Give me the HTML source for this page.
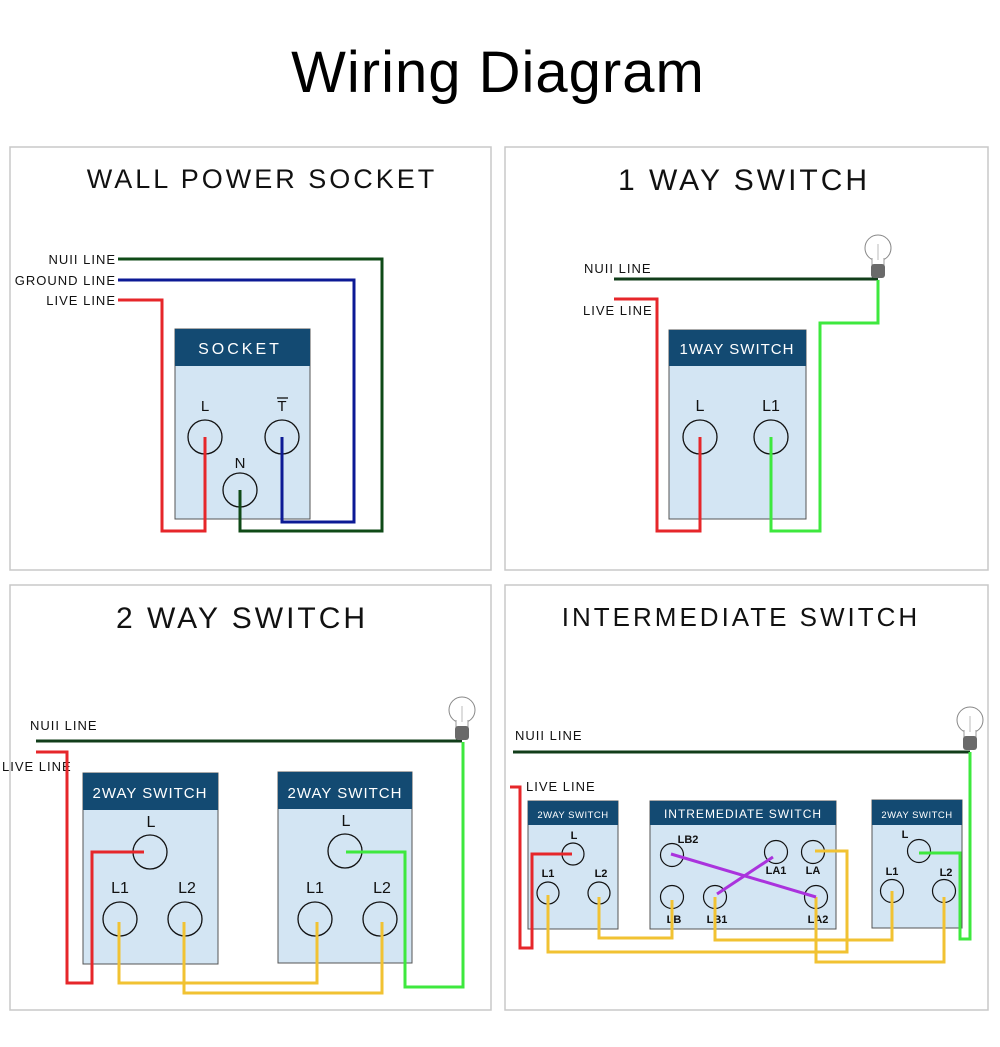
<!DOCTYPE html>
<html><head><meta charset="utf-8"><style>
html,body{margin:0;padding:0;background:#fff;}
svg{display:block;}
text{font-family:"Liberation Sans","DejaVu Sans",sans-serif;}
</style></head><body>
<svg width="1000" height="1047" viewBox="0 0 1000 1047" xmlns="http://www.w3.org/2000/svg">
<defs>
<g id="bulb">
<circle cx="0" cy="-8" r="13" fill="#fff" stroke="#888" stroke-width="1"/>
<path d="M-6,2 L-6,10 L6,10 L6,2" fill="#fff" stroke="#999" stroke-width="1"/>
<rect x="-7" y="8" width="14" height="14" rx="3" fill="#6a6a6a"/>
<line x1="0" y1="-12" x2="0" y2="4" stroke="#aaa" stroke-width="0.8"/>
</g>
</defs>
<text x="498" y="92" font-size="58" text-anchor="middle" fill="#000" letter-spacing="1">Wiring  Diagram</text>
<g fill="none" stroke="#c8c8c8" stroke-width="1.5">
<rect x="10" y="147" width="481" height="423"/>
<rect x="505" y="147" width="483" height="423"/>
<rect x="10" y="585" width="481" height="425"/>
<rect x="505" y="585" width="483" height="425"/>
</g>
<g fill="#111" text-anchor="middle" letter-spacing="3">
<text x="262" y="188" font-size="27">WALL POWER SOCKET</text>
<text x="744" y="190" font-size="30">1 WAY SWITCH</text>
<text x="242" y="628" font-size="30">2 WAY SWITCH</text>
<text x="741" y="626" font-size="26">INTERMEDIATE SWITCH</text>
</g>
<!-- Socket -->
<rect x="175" y="329" width="135" height="190" fill="#d3e5f3" stroke="#555"/>
<rect x="175" y="329" width="135" height="37" fill="#134a72"/>
<text x="240" y="354" font-size="16" fill="#fff" text-anchor="middle" letter-spacing="3">SOCKET</text>
<g font-size="15" fill="#111" text-anchor="middle">
<text x="205" y="411">L</text><text x="282" y="411">T</text><text x="240" y="468">N</text>
<text x="116" y="264" text-anchor="end" font-size="13" letter-spacing="1">NUII LINE</text>
<text x="116" y="285" text-anchor="end" font-size="13" letter-spacing="1">GROUND LINE</text>
<text x="116" y="305" text-anchor="end" font-size="13" letter-spacing="1">LIVE LINE</text>
</g>
<line x1="277" y1="398" x2="288" y2="398" stroke="#111" stroke-width="1.3"/>
<g fill="none" stroke="#111" stroke-width="1.3">
<circle cx="205" cy="437" r="17"/><circle cx="282" cy="437" r="17"/><circle cx="240" cy="490" r="17"/>
</g>
<g fill="none" stroke-width="3">
<polyline points="118,259 382,259 382,531 240,531 240,490" stroke="#0f4a17"/>
<polyline points="118,280 354,280 354,522 282,522 282,437" stroke="#0c1a95"/>
<polyline points="118,300 162,300 162,531 205,531 205,437" stroke="#e6262a"/>
</g>
<!-- 1 way -->
<rect x="669" y="330" width="137" height="189" fill="#d3e5f3" stroke="#555"/>
<rect x="669" y="330" width="137" height="36" fill="#134a72"/>
<text x="737" y="354" font-size="15" fill="#fff" text-anchor="middle" letter-spacing="1">1WAY SWITCH</text>
<g font-size="16" fill="#111" text-anchor="middle">
<text x="700" y="411">L</text><text x="771" y="411">L1</text></g>
<text x="584" y="273" font-size="13" fill="#111" letter-spacing="1">NUII LINE</text>
<text x="583" y="315" font-size="13" fill="#111" letter-spacing="1">LIVE LINE</text>
<g fill="none" stroke="#111" stroke-width="1.3"><circle cx="700" cy="437" r="17"/><circle cx="771" cy="437" r="17"/></g>
<g fill="none" stroke-width="3">
<line x1="614" y1="279" x2="878" y2="279" stroke="#113d1a"/>
<polyline points="614,299 657,299 657,531 700,531 700,437" stroke="#e6262a"/>
<polyline points="771,437 771,531 820,531 820,323 878,323 878,280" stroke="#3ee83e"/>
</g>
<use href="#bulb" x="878" y="256"/>
<!-- 2 way -->
<text x="30" y="730" font-size="13" fill="#111" letter-spacing="1">NUII LINE</text>
<text x="2" y="771" font-size="13" fill="#111" letter-spacing="1">LIVE LINE</text>
<rect x="83" y="773" width="135" height="191" fill="#d3e5f3" stroke="#555"/>
<rect x="83" y="773" width="135" height="37" fill="#134a72"/>
<text x="150" y="798" font-size="15" fill="#fff" text-anchor="middle" letter-spacing="1">2WAY SWITCH</text>
<rect x="278" y="772" width="134" height="191" fill="#d3e5f3" stroke="#555"/>
<rect x="278" y="772" width="134" height="37" fill="#134a72"/>
<text x="345" y="798" font-size="15" fill="#fff" text-anchor="middle" letter-spacing="1">2WAY SWITCH</text>
<g font-size="16" fill="#111" text-anchor="middle">
<text x="151" y="827">L</text><text x="120" y="893">L1</text><text x="187" y="893">L2</text>
<text x="346" y="826">L</text><text x="315" y="893">L1</text><text x="382" y="893">L2</text></g>
<g fill="none" stroke="#111" stroke-width="1.3">
<circle cx="150" cy="852" r="17"/><circle cx="120" cy="919" r="17"/><circle cx="185" cy="919" r="17"/>
<circle cx="345" cy="851" r="17"/><circle cx="315" cy="919" r="17"/><circle cx="380" cy="919" r="17"/></g>
<g fill="none" stroke-width="3">
<line x1="36" y1="741" x2="462" y2="741" stroke="#113d1a"/>
<polyline points="36,752 67,752 67,983 92,983 92,852 144,852" stroke="#e6262a"/>
<polyline points="119,922 119,983 317,983 317,922" stroke="#f1c232"/>
<polyline points="184,922 184,993 382,993 382,922" stroke="#f1c232"/>
<polyline points="346,852 405,852 405,987 463,987 463,742" stroke="#3ee83e"/>
</g>
<use href="#bulb" x="462" y="718"/>
<!-- intermediate -->
<text x="515" y="740" font-size="13" fill="#111" letter-spacing="1">NUII LINE</text>
<text x="526" y="791" font-size="13" fill="#111" letter-spacing="1">LIVE LINE</text>
<rect x="528" y="801" width="90" height="128" fill="#d3e5f3" stroke="#555"/>
<rect x="528" y="801" width="90" height="24" fill="#134a72"/>
<text x="573" y="818" font-size="9.5" fill="#fff" text-anchor="middle" letter-spacing="0.5">2WAY SWITCH</text>
<rect x="650" y="801" width="186" height="128" fill="#d3e5f3" stroke="#555"/>
<rect x="650" y="801" width="186" height="24" fill="#134a72"/>
<text x="743" y="818" font-size="12" fill="#fff" text-anchor="middle" letter-spacing="1">INTREMEDIATE SWITCH</text>
<rect x="872" y="800" width="90" height="128" fill="#d3e5f3" stroke="#555"/>
<rect x="872" y="800" width="90" height="25" fill="#134a72"/>
<text x="917" y="818" font-size="9.5" fill="#fff" text-anchor="middle" letter-spacing="0.5">2WAY SWITCH</text>
<g font-size="11" fill="#111" text-anchor="middle" font-weight="bold">
<text x="574" y="839">L</text><text x="548" y="877">L1</text><text x="601" y="877">L2</text>
<text x="688" y="843">LB2</text><text x="776" y="874">LA1</text><text x="813" y="874">LA</text>
<text x="674" y="923">LB</text><text x="717" y="923">LB1</text><text x="818" y="923">LA2</text>
<text x="905" y="838">L</text><text x="892" y="875">L1</text><text x="946" y="876">L2</text></g>
<g fill="none" stroke="#111" stroke-width="1.2">
<circle cx="573" cy="854" r="11"/><circle cx="548" cy="893" r="11"/><circle cx="599" cy="893" r="11"/>
<circle cx="672" cy="855" r="11.5"/><circle cx="776" cy="852" r="11.5"/><circle cx="813" cy="852" r="11.5"/>
<circle cx="672" cy="897" r="11.5"/><circle cx="715" cy="897" r="11.5"/><circle cx="816" cy="897" r="11.5"/>
<circle cx="919" cy="851" r="11.5"/><circle cx="892" cy="891" r="11.5"/><circle cx="944" cy="891" r="11.5"/></g>
<g fill="none" stroke-width="3">
<line x1="513" y1="752" x2="970" y2="752" stroke="#113d1a"/>
<polyline points="510,787 520,787 520,948 532,948 532,854 572,854" stroke="#e6262a"/>
<polyline points="548,895 548,952 847,952 847,851 815,851" stroke="#f1c232"/>
<polyline points="599,897 599,938 672,938 672,900" stroke="#f1c232"/>
<polyline points="715,897 715,940 892,940 892,891" stroke="#f1c232"/>
<polyline points="816,897 816,962 944,962 944,897" stroke="#f1c232"/>
<line x1="671" y1="854" x2="816" y2="897" stroke="#aa33dd"/>
<line x1="717" y1="894" x2="773" y2="857" stroke="#aa33dd"/>
<polyline points="919,853 960,853 960,939 970,939 970,752" stroke="#3ee83e"/>
</g>
<use href="#bulb" x="970" y="728"/>
</svg>
</body></html>
